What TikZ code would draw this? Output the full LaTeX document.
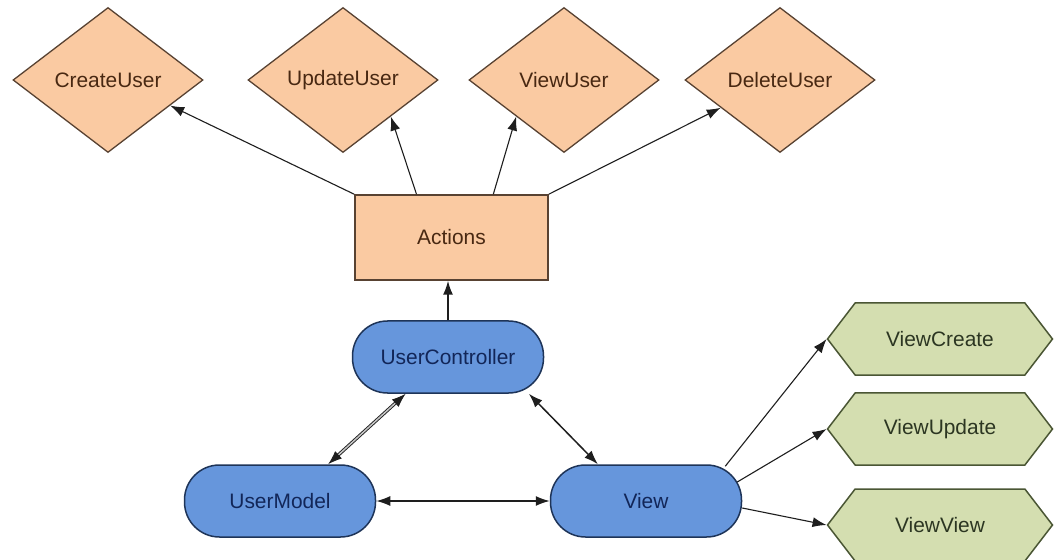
\documentclass[tikz,border=0pt]{standalone}
\usepackage{fontspec}
\setmainfont{Liberation Sans}
\usetikzlibrary{shapes.geometric,shapes.symbols,arrows.meta,calc}

\definecolor{peach}{RGB}{250,202,162}
\definecolor{peachline}{RGB}{88,66,50}
\definecolor{peachtext}{RGB}{72,40,18}
\definecolor{ctlblue}{RGB}{102,150,220}
\definecolor{blueline}{RGB}{30,52,88}
\definecolor{bluetext}{RGB}{18,38,88}
\definecolor{sage}{RGB}{212,222,176}
\definecolor{sageline}{RGB}{74,86,52}
\definecolor{sagetext}{RGB}{44,54,34}
\definecolor{wire}{RGB}{30,30,30}

\tikzset{
  label font/.style={font=\fontsize{21}{24}\selectfont},
  actionbox/.style={diamond, aspect=1.31, minimum width=190bp, minimum height=145bp,
    inner sep=0pt, fill=peach, draw=peachline, line width=1.3bp, text=peachtext, label font},
  hubbox/.style={rectangle, minimum width=193bp, minimum height=85bp, inner sep=0pt,
    fill=peach, draw=peachline, line width=1.5bp, text=peachtext, label font},
  mvcbox/.style={rectangle, rounded corners=35bp, minimum width=191bp, minimum height=72bp,
    inner sep=0pt, fill=ctlblue, draw=blueline, line width=1.5bp, text=bluetext, label font},
  viewbox/.style={signal, signal to=east and west, signal pointer angle=105,
    minimum width=225bp, minimum height=72bp, inner sep=0pt,
    fill=sage, draw=sageline, line width=1.5bp, text=sagetext, label font},
  link/.style={draw=wire, line width=1.1bp, -{Latex[length=14bp,width=10bp]}},
  twoway/.style={draw=wire, line width=1.5bp,
    {Latex[length=14bp,width=10bp]}-{Latex[length=14bp,width=10bp]}},
  twowaydbl/.style={draw=wire, line width=0.9bp, double=gray!45, double distance=1.5bp,
    {Latex[length=14bp,width=10bp]}-{Latex[length=14bp,width=10bp]}},
}

\begin{document}
\begin{tikzpicture}[x=1bp, y=-1bp]
  \fill[white] (0,0) rectangle (1054,560);
  \useasboundingbox (0,0) rectangle (1054,560);

  % action diamonds
  \node[actionbox] (cu) at (108,80) {CreateUser};
  \node[actionbox] (uu) at (343,80) {UpdateUser};
  \node[actionbox] (vu) at (564,80) {ViewUser};
  \node[actionbox] (du) at (780,80) {DeleteUser};

  % actions hub
  \node[hubbox] (act) at (451.5,237.5) {Actions};

  % MVC triad
  \node[mvcbox] (uc) at (448,357) {UserController};
  \node[mvcbox] (um) at (280,501) {UserModel};
  \node[mvcbox] (vw) at (646,501) {View};

  % view templates
  \node[viewbox] (vc)  at (940,339) {ViewCreate};
  \node[viewbox] (vup) at (940,429) {ViewUpdate};
  \node[viewbox] (vv)  at (940,525) {ViewView};

  % actions to the individual operations
  \draw[link] (act.north west) -- ($(cu.south)!0.65!(cu.east)$);
  \draw[link] ($(act.north west)!0.32!(act.north east)$) -- ($(uu.south)!0.5!(uu.east)$);
  \draw[link] ($(act.north west)!0.715!(act.north east)$) -- ($(vu.south)!0.5!(vu.west)$);
  \draw[link] (act.north east) -- ($(du.south)!0.62!(du.west)$);

  % controller to actions
  \draw[link, line width=1.5bp] (uc.north) -- (uc.north |- act.south);

  % triad links
  \draw[twowaydbl] ($(um.north west)!0.75!(um.north east)$) -- ($(uc.south west)!0.28!(uc.south east)$);
  \draw[twoway] ($(uc.south west)!0.92!(uc.south east)$) -- ($(vw.north west)!0.25!(vw.north east)$);
  \draw[twoway] (um.east) -- (vw.west);

  % view to templates
  \draw[link] ($(vw.north east)+(-17,2)$) -- (vc.west);
  \draw[link] ($(vw.east)+(-5,-19)$) -- (vup.west);
  \draw[link] ($(vw.east)+(0,7)$) -- (vv.west);
\end{tikzpicture}
\end{document}
